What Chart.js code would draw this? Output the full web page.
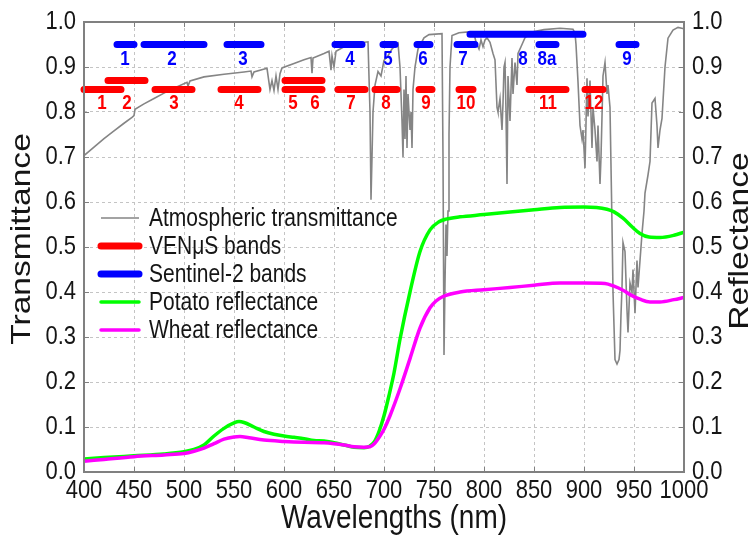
<!DOCTYPE html>
<html>
<head>
<meta charset="utf-8">
<title>Atmospheric transmittance and reflectance</title>
<script src="https://cdn.jsdelivr.net/npm/chart.js@4.4.1/dist/chart.umd.min.js"></script>
<style>
  html, body { margin: 0; padding: 0; background: #fff; }
  #wrap { width: 752px; height: 535px; }
</style>
</head>
<body>
<div id="wrap"><canvas id="chart" width="752" height="535"></canvas></div>
<script>
// atmospheric transmittance (gray)
const transNm = [
  400, 410, 420, 430, 440, 448, 450, 451, 460, 470,
  480, 490, 503, 504, 506, 520, 540, 560, 567, 568,
  570, 583, 586, 588, 590, 592, 594, 596, 598, 610,
  620, 627, 628, 629, 640, 645, 647, 648, 650, 652,
  660, 670, 684, 686, 687, 688, 689, 691, 694, 697,
  700, 704, 708, 714, 716, 718, 719, 720, 721, 722,
  723, 724, 726, 727, 728, 729, 731, 734, 740, 745,
  758, 759, 760, 761, 762, 763, 764, 765, 766, 768,
  775, 785, 790, 792, 795, 797, 799, 801, 803, 806,
  809, 811, 813, 814, 816, 818, 819, 820, 821, 822,
  823, 824, 826, 828, 829, 831, 833, 834, 838, 841,
  848, 860, 876, 889, 891, 892, 894, 896, 898, 899,
  901, 903, 904, 906, 908, 909, 911, 913, 914, 916,
  917, 919, 921, 923, 924, 926, 928, 929, 931, 933,
  935, 936, 937, 938, 939, 941, 943, 944, 946, 948,
  949, 951, 953, 954, 956, 958, 960, 961, 964, 966,
  968, 971, 973, 974, 976, 978, 981, 984, 989, 994,
  1000
];
const transVal = [
  .703, .722, .741, .758, .775, .788, .792, .806, .818, .830,
  .842, .853, .866, .858, .869, .878, .884, .889, .891, .878,
  .889, .897, .850, .870, .848, .880, .850, .885, .898, .908,
  .916, .921, .886, .920, .930, .935, .893, .925, .900, .935,
  .945, .952, .956, .800, .605, .700, .800, .860, .890, .880,
  .915, .925, .940, .953, .900, .780, .700, .850, .740, .880,
  .720, .840, .760, .800, .720, .850, .900, .940, .965, .972,
  .974, .700, .260, .420, .550, .480, .580, .750, .900, .970,
  .976, .978, .975, .955, .940, .960, .945, .960, .965, .955,
  .930, .916, .810, .800, .830, .760, .820, .900, .910, .800,
  .640, .880, .780, .920, .840, .910, .860, .930, .950, .965,
  .978, .983, .986, .984, .975, .950, .867, .770, .740, .760,
  .675, .875, .790, .870, .720, .810, .760, .690, .770, .640,
  .700, .880, .910, .840, .860, .810, .550, .400, .250, .240,
  .250, .270, .350, .410, .510, .490, .360, .310, .420, .400,
  .450, .353, .470, .410, .470, .530, .580, .620, .660, .690,
  .820, .830, .770, .720, .760, .786, .900, .964, .982, .988,
  .985
];

// VENuS bands (red)
const venusStart = [400, 424, 471, 537, 601, 601, 654, 691, 735, 775, 845, 901];
const venusEnd   = [437, 461, 508, 574, 638, 638, 681, 713, 748, 789, 882, 919];
const venusLevel = [0.85, 0.87, 0.85, 0.85, 0.87, 0.85, 0.85, 0.85, 0.85, 0.85, 0.85, 0.85];
const venusNames = ['1', '2', '3', '4', '5', '6', '7', '8', '9', '10', '11', '12'];
const venusLabelNm = [418, 443, 490, 555, 609, 631, 667, 702, 742, 782, 864, 910];

// Sentinel-2 bands (blue)
const s2Start = [433, 460, 543, 651, 699, 733, 773, 786, 855, 935];
const s2End   = [450, 520, 577, 678, 711, 746, 791, 899, 872, 952];
const s2Level = [0.95, 0.95, 0.95, 0.95, 0.95, 0.95, 0.95, 0.973, 0.95, 0.95];
const s2Names = ['1', '2', '3', '4', '5', '6', '7', '8', '8a', '9'];
const s2LabelNm = [441, 488, 559, 666, 704, 739, 779, 839, 863, 943];

// reflectance curves
const potatoNm = [400, 420, 450, 480, 500, 510, 520, 530, 540, 550, 555, 560, 570, 580, 590,
  600, 610, 620, 630, 640, 650, 660, 670, 680, 686, 690, 695, 700, 705, 710,
  716, 726, 736, 746, 755, 762, 776, 800, 826, 850, 876, 900, 923, 930, 939,
  948, 956, 965, 976, 990, 1000];
const potatoVal = [.029, .032, .036, .040, .045, .050, .060, .080, .097, .109, .112, .110, .100, .090, .084,
  .080, .077, .074, .070, .069, .065, .060, .055, .054, .058, .066, .090, .125, .170, .220,
  .295, .400, .490, .538, .556, .562, .567, .572, .578, .583, .588, .589, .584, .578, .564,
  .545, .530, .522, .521, .526, .533];

const wheatNm = [400, 420, 450, 480, 500, 510, 520, 530, 540, 550, 556, 565, 580, 600, 620,
  640, 650, 660, 670, 680, 686, 690, 696, 700, 706, 716, 726, 736, 746, 752,
  759, 776, 800, 826, 850, 876, 900, 921, 930, 939, 948, 956, 966, 976, 990, 1000];
const wheatVal = [.024, .028, .034, .038, .041, .046, .053, .063, .073, .078, .079, .076, .071, .068, .066,
  .065, .063, .060, .056, .055, .056, .062, .080, .095, .125, .185, .252, .320, .365, .380,
  .390, .400, .405, .410, .415, .420, .420, .419, .413, .404, .392, .384, .378, .378, .383, .388];

const FONT = "'Liberation Sans', Arial, sans-serif";
const TEXT = '#151515';
const FRAME = '#808080';
const STRETCH = 1.2; // the original figure's text is drawn taller than wide

function pairs(xs, ys) {
    return xs.map((x, i) => ({ x: x, y: ys[i] }));
}

function bandSegments(starts, ends, levels) {
    const pts = [];
    starts.forEach((s, i) => {
        pts.push({ x: s, y: levels[i] });
        pts.push({ x: ends[i], y: levels[i] });
        pts.push({ x: ends[i], y: null }); // break between bands
    });
    return pts;
}

// text with a vertical stretch; rotated text gets stretched along its length
function stretchText(ctx, text, x, y, align, font, color, rotate) {
    ctx.save();
    ctx.translate(x, y);
    ctx.scale(1, STRETCH);
    if (rotate) ctx.rotate(rotate);
    ctx.font = font;
    ctx.fillStyle = color;
    ctx.textAlign = align;
    ctx.textBaseline = 'middle';
    ctx.fillText(text, 0, 0);
    ctx.restore();
}

// frame + small inward ticks
const framePlugin = {
    id: 'frame',
    afterDraw(chart) {
        const ctx = chart.ctx;
        const a = chart.chartArea;
        const xs = chart.scales.x, ys = chart.scales.y;
        ctx.save();
        ctx.strokeStyle = FRAME;
        ctx.lineWidth = 1;
        ctx.beginPath();
        xs.ticks.forEach(t => {
            const px = Math.round(xs.getPixelForValue(t.value)) + 0.5;
            ctx.moveTo(px, a.bottom); ctx.lineTo(px, a.bottom - 5);
            ctx.moveTo(px, a.top); ctx.lineTo(px, a.top + 5);
        });
        ys.ticks.forEach(t => {
            const py = Math.round(ys.getPixelForValue(t.value)) + 0.5;
            ctx.moveTo(a.left, py); ctx.lineTo(a.left + 5, py);
            ctx.moveTo(a.right, py); ctx.lineTo(a.right - 5, py);
        });
        ctx.stroke();
        ctx.lineWidth = 2;
        ctx.strokeRect(a.left, a.top, a.right - a.left, a.bottom - a.top);
        ctx.restore();
    }
};

// tick labels and axis titles
const axisTextPlugin = {
    id: 'axisText',
    afterDraw(chart) {
        const ctx = chart.ctx;
        const a = chart.chartArea;
        const xs = chart.scales.x, ys = chart.scales.y, ys1 = chart.scales.y1;
        const tickFont = '22px ' + FONT;
        const titleFont = '28px ' + FONT;
        xs.ticks.forEach(t => {
            stretchText(ctx, String(t.value), xs.getPixelForValue(t.value), a.bottom + 19, 'center', tickFont, TEXT);
        });
        ys.ticks.forEach(t => {
            stretchText(ctx, t.value.toFixed(1), a.left - 8, ys.getPixelForValue(t.value), 'right', tickFont, TEXT);
        });
        ys1.ticks.forEach(t => {
            stretchText(ctx, t.value.toFixed(1), a.right + 8, ys1.getPixelForValue(t.value), 'left', tickFont, TEXT);
        });
        stretchText(ctx, 'Wavelengths (nm)', (a.left + a.right) / 2 + 10, a.bottom + 47, 'center', titleFont, TEXT);
        stretchText(ctx, 'Transmittance', 22, (a.top + a.bottom) / 2 - 8, 'center', titleFont, TEXT, -Math.PI / 2);
        stretchText(ctx, 'Reflectance', a.right + 56, (a.top + a.bottom) / 2 - 6, 'center', titleFont, TEXT, -Math.PI / 2);
    }
};

// band numbers under the bars
const bandLabelPlugin = {
    id: 'bandLabels',
    afterDatasetsDraw(chart) {
        const ctx = chart.ctx;
        const xs = chart.scales.x, ys = chart.scales.y;
        const font = 'bold 17px ' + FONT;
        venusNames.forEach((n, i) => {
            stretchText(ctx, n, xs.getPixelForValue(venusLabelNm[i]), ys.getPixelForValue(0.85) + 14, 'center', font, '#ff0000');
        });
        s2Names.forEach((n, i) => {
            stretchText(ctx, n, xs.getPixelForValue(s2LabelNm[i]), ys.getPixelForValue(0.95) + 15, 'center', font, '#0000ff');
        });
    }
};

// legend inside the plot, upper left of the empty area
const legendPlugin = {
    id: 'insideLegend',
    afterDraw(chart) {
        const ctx = chart.ctx;
        const a = chart.chartArea;
        const x0 = a.left + 17, y0 = a.top + 196, rowH = 28;
        chart.data.datasets.forEach((ds, i) => {
            const y = y0 + i * rowH;
            ctx.save();
            ctx.strokeStyle = ds.borderColor;
            ctx.lineWidth = ds.borderWidth;
            ctx.lineCap = ds.legendCap || 'butt';
            ctx.beginPath();
            ctx.moveTo(x0, y);
            ctx.lineTo(x0 + 38, y);
            ctx.stroke();
            ctx.restore();
            stretchText(ctx, ds.label, x0 + 48, y + 1, 'left', '21px ' + FONT, TEXT);
        });
    }
};

const ctx = document.getElementById('chart').getContext('2d');
new Chart(ctx, {
    type: 'line',
    data: {
        datasets: [
            {
                label: 'Atmospheric transmittance',
                data: pairs(transNm, transVal),
                borderColor: '#858585',
                borderWidth: 1.6,
                pointRadius: 0,
                tension: 0,
                order: 5
            },
            {
                label: 'VEN\u03bcS bands',
                data: bandSegments(venusStart, venusEnd, venusLevel),
                borderColor: '#ff0000',
                borderWidth: 7,
                borderCapStyle: 'round',
                legendCap: 'round',
                pointRadius: 0,
                spanGaps: false,
                clip: false,
                order: 4
            },
            {
                label: 'Sentinel-2 bands',
                data: bandSegments(s2Start, s2End, s2Level),
                borderColor: '#0000ff',
                borderWidth: 7,
                borderCapStyle: 'round',
                legendCap: 'round',
                pointRadius: 0,
                spanGaps: false,
                clip: false,
                order: 3
            },
            {
                label: 'Potato reflectance',
                data: pairs(potatoNm, potatoVal),
                borderColor: '#00ff00',
                borderWidth: 3.5,
                legendCap: 'round',
                pointRadius: 0,
                cubicInterpolationMode: 'monotone',
                yAxisID: 'y1',
                order: 2
            },
            {
                label: 'Wheat reflectance',
                data: pairs(wheatNm, wheatVal),
                borderColor: '#ff00ff',
                borderWidth: 3.5,
                legendCap: 'round',
                pointRadius: 0,
                cubicInterpolationMode: 'monotone',
                yAxisID: 'y1',
                order: 1
            }
        ]
    },
    options: {
        responsive: false,
        animation: false,
        events: [],
        layout: { padding: { top: 22, left: 0, right: 0, bottom: 0 } },
        plugins: {
            legend: { display: false },
            tooltip: { enabled: false }
        },
        scales: {
            x: {
                type: 'linear',
                min: 400,
                max: 1000,
                ticks: { stepSize: 50, autoSkip: false, maxRotation: 0, display: false },
                grid: { color: '#c4c4c4', lineWidth: 1, drawTicks: false },
                border: { display: false, dash: [3, 3] },
                afterFit: s => { s.height = 63; }
            },
            y: {
                position: 'left',
                min: 0,
                max: 1,
                ticks: { stepSize: 0.1, display: false },
                grid: { color: '#c4c4c4', lineWidth: 1, drawTicks: false },
                border: { display: false, dash: [3, 3] },
                afterFit: s => { s.width = 84; }
            },
            y1: {
                position: 'right',
                min: 0,
                max: 1,
                ticks: { stepSize: 0.1, display: false },
                grid: { display: false, drawTicks: false },
                border: { display: false },
                afterFit: s => { s.width = 68; }
            }
        }
    },
    plugins: [framePlugin, bandLabelPlugin, legendPlugin, axisTextPlugin]
});
</script>
</body>
</html>
